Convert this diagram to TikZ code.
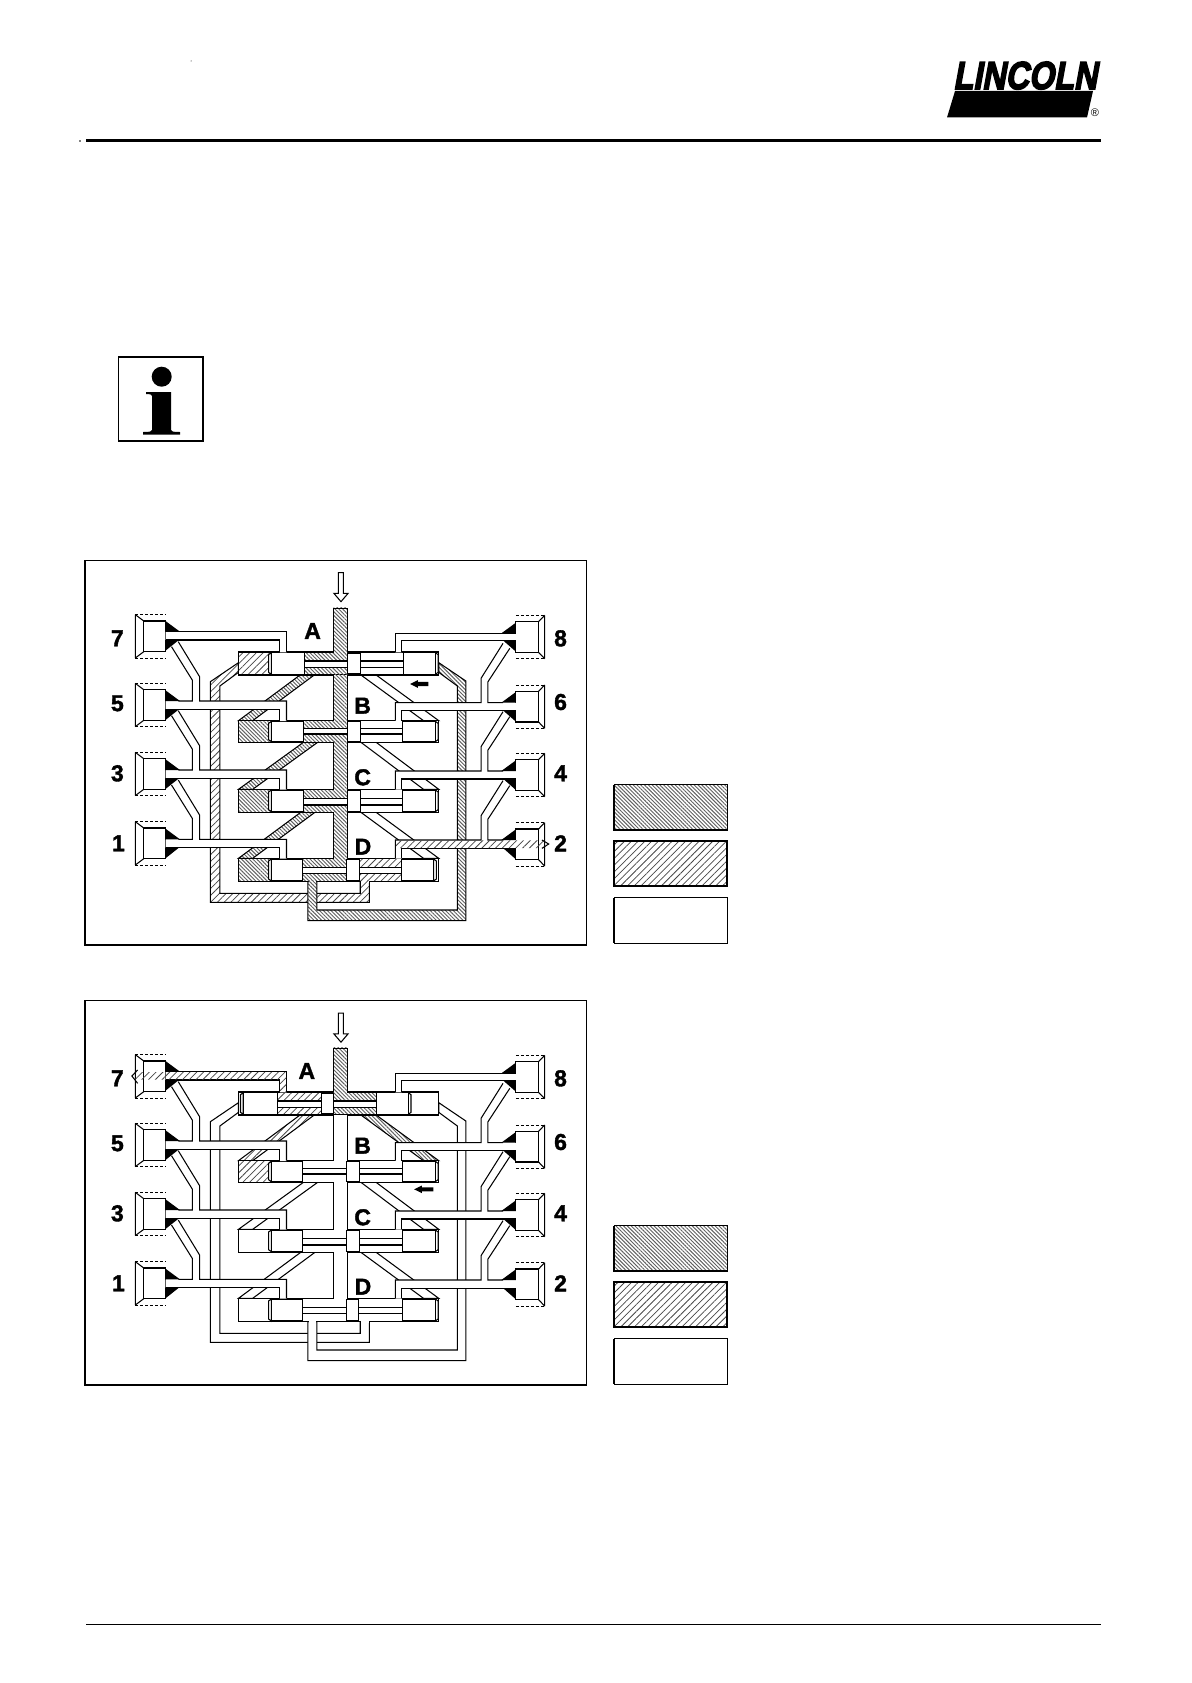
\documentclass[tikz,border=0pt]{standalone}
\usepackage{fontspec}
\usetikzlibrary{patterns.meta}
\setmainfont{Liberation Sans}
\newfontfamily\logofont[FakeSlant=0.22,FakeBold=4]{Liberation Sans Bold}
\newfontfamily\labfont[FakeBold=1.6]{Liberation Sans Bold}
\tikzset{
  apply/.code={\pgfkeysalso{#1}},
  wh/.style={fill=white},
  dk/.style={pattern={Lines[angle=-45,distance=2.7pt,line width=.95pt]},pattern color=black!62},
  lt/.style={pattern={Lines[angle=45,distance=4.8pt,line width=.75pt]},pattern color=black!72},
  ln/.style={line width=1.05pt,line join=miter},
  lab/.style={font=\labfont\fontsize{23}{23}\selectfont,inner sep=0pt},
}
% filled patch, white underlay plus the given style
\newcommand\HF[2]{\fill[white] #2; \fill[apply/.expanded=#1] #2;}
\newcommand\TermL[1]{%
  \fill[white] (193,#1) rectangle (283,#1+130);
  \draw[ln,densely dashed,line width=.7pt] (193,#1) -- (283,#1) (193,#1+130) -- (283,#1+130);
  \draw[ln] (193,#1) -- (193,#1+130) (193,#1) -- (218,#1+19) (193,#1+130) -- (218,#1+111);
  \draw[ln] (218,#1+19) rectangle (283,#1+111);}
\newcommand\TermR[1]{%
  \fill[white] (1318,#1) rectangle (1403,#1+130);
  \draw[ln,densely dashed,line width=.7pt] (1318,#1) -- (1403,#1) (1318,#1+130) -- (1403,#1+130);
  \draw[ln] (1403,#1) -- (1403,#1+130) (1403,#1) -- (1385,#1+19) (1403,#1+130) -- (1385,#1+111);
  \draw[ln] (1318,#1+19) rectangle (1385,#1+111);}
\newcommand\TriL[2]{% top y, bottom y of channel
  \fill (281,#1-33) -- (325,#1) -- (281,#1) -- cycle;
  \fill (281,#2) -- (322,#2) -- (281,#2+33) -- cycle;}
\newcommand\TriR[2]{%
  \fill (1318,#1-32) -- (1275,#1) -- (1318,#1) -- cycle;
  \fill (1318,#2) -- (1281,#2) -- (1318,#2+33) -- cycle;}
% left outlet: top, bottom, block top
\newcommand\OutLB[3]{%
  \fill[white] (620,#3+1) -- (620,#2) -- (283,#2) -- (283,#1) -- (362,#1) -- (362,#1-62) -- (300,#1-163) -- (320,#1-178) -- (383,#1-73) -- (383,#1) -- (640,#1) -- (640,#3+1) -- cycle;
  \draw[ln] (300,#1-163) -- (362,#1-62) -- (362,#1) -- (320,#1);
  \draw[ln] (320,#1-178) -- (383,#1-73) -- (383,#1) -- (640,#1) -- (640,#3);
  \draw[ln] (283,#2) -- (620,#2) -- (620,#3);}
\newcommand\OutRB[3]{%
  \fill[white] (980,#3+1) -- (980,#2) -- (1318,#2) -- (1318,#1) -- (1235,#1) -- (1235,#1-62) -- (1300,#1-163) -- (1280,#1-178) -- (1215,#1-73) -- (1215,#1) -- (962,#1) -- (962,#3+1) -- cycle;
  \draw[ln] (1300,#1-163) -- (1235,#1-62) -- (1235,#1) -- (1280,#1);
  \draw[ln] (1280,#1-178) -- (1215,#1-73) -- (1215,#1) -- (962,#1) -- (962,#3);
  \draw[ln] (1318,#2) -- (980,#2) -- (980,#3);}
% the whole circuit; parameters are set with \def before the call
\newcommand\Circuit[1]{%
  \draw[line width=1pt] (43,30+#1) rectangle (1528,1185-#1);
  \draw[line width=2pt] (43,30+#1) -- (43,1185-#1) -- (1528,1185-#1);
  \draw[ln,fill=white] (793,68+#1) -- (808,68+#1) -- (808,130+#1) -- (822,130+#1) -- (801,155+#1) -- (780,130+#1) -- (793,130+#1) -- cycle;
  % terminals
  \foreach \y in {194,400,607,815} {\TermL{\y}}
  \foreach \y in {196,405,610,818} {\TermR{\y}}
  % return loops
  \def\pp{(498,338) -- (415,395) -- (415,1057) -- (885,1057) -- (885,995) -- (858,995) -- (858,1030) -- (443,1030) -- (443,408) -- (498,367) -- cycle}
  \HF{\sLoopL}{\pp}
  \draw[ln] \pp;
  \def\pp{(1090,338) -- (1170,393) -- (1170,1112) -- (703,1112) -- (703,995) -- (730,995) -- (730,1080) -- (1145,1080) -- (1145,408) -- (1090,367) -- cycle}
  \HF{\sLoopR}{\pp}
  \draw[ln] \pp;
  % diagonals
  \foreach \ya/\yb/\xa/\sl/\sr in \DiagData {
    \def\pp{(\xa,\ya) -- (\xa+42,\ya) -- (540,\yb) -- (498,\yb) -- cycle}
    \HF{\sl}{\pp}
    \draw[ln] \pp;
    \def\pp{(860,\ya) -- (905,\ya) -- (1090,\yb) -- (1045,\yb) -- cycle}
    \HF{\sr}{\pp}
    \draw[ln] \pp;
  }
  % valve rows
  \foreach \yt/\yb/\rT/\rB/\pa/\pb/\sa/\sb/\pc/\pd/\se/\fl/\fr in \RowData {
    \fill[white] (498,\yt) rectangle (1090,\yb);
    \HF{\se}{(498,\yt) rectangle (\pa,\yb)}
    \HF{\fl}{(\pb,\yt) rectangle (\sa,\yb)}
    \HF{\fr}{(\sb,\yt) rectangle (\pc,\yb)}
    \draw[ln] (498,\yt) rectangle (1090,\yb);
    \draw[ln,fill=white] (\pb,\rT) rectangle (\sa,\rB);
    \draw[ln,fill=white] (\sb,\rT) rectangle (\pc,\rB);
    \draw[ln,fill=white] (\pa,\yt+2) -- (\pa-8,\yt+8) -- (\pa-8,\yb-8) -- (\pa,\yb-2) -- cycle;
    \draw[ln,fill=white] (\pd,\yt+2) -- (\pd+8,\yt+8) -- (\pd+8,\yb-8) -- (\pd,\yb-2) -- cycle;
    \draw[ln,fill=white] (\pa,\yt+2) rectangle (\pb,\yb-2);
    \draw[ln,fill=white] (\pc,\yt+2) rectangle (\pd,\yb-2);
    \draw[ln,fill=white] (\sa,\yt+3) rectangle (\sb,\yb-3);
  }
  % supply channel
  \foreach \ya/\yb/\st in \MainData {
    \HF{\st}{(779,\ya-1.5) rectangle (820,\yb+1.5)}
    \draw[ln] (779,\ya) -- (779,\yb) (820,\ya) -- (820,\yb);
  }
  \draw[ln] (779,175+#1) -- (820,175+#1);
  \HF{\sLoopR}{(705,992) rectangle (728,998)}
  \HF{\sLoopL}{(860,992) rectangle (883,998)}
  % outlets
  \fill[white] (620,307) -- (620,270) -- (283,270) -- (283,245) -- (640,245) -- (640,307) -- cycle;
  \draw[ln] (283,245) -- (640,245) -- (640,306) (283,270) -- (620,270) -- (620,306);
  \OutLB{453}{478}{512}
  \OutLB{660}{685}{718}
  \OutLB{868}{893}{925}
  \fill[white] (980,307) -- (980,272) -- (1318,272) -- (1318,250) -- (962,250) -- (962,307) -- cycle;
  \draw[ln] (1318,250) -- (962,250) -- (962,306) (1318,272) -- (980,272) -- (980,306);
  \OutRB{458}{482}{512}
  \OutRB{663}{687}{718}
  \OutRB{870}{895}{925}
}
\newcommand\Labels[2]{%
  \node[lab] (#1n7) at (140,265) {7};
  \node[lab] (#1n5) at (140,460) {5};
  \node[lab] (#1n3) at (140,670) {3};
  \node[lab] (#1n1) at (143,880) {1};
  \node[lab] (#1n8) at (1450,265) {8};
  \node[lab] (#1n6) at (1450,456) {6};
  \node[lab] (#1n4) at (1450,670) {4};
  \node[lab] (#1n2) at (1450,880) {2};
  \node[lab] (#1nA) at (#2,243) {A};
  \node[lab] (#1nB) at (865,467) {B};
  \node[lab] (#1nC) at (865,682) {C};
  \node[lab] (#1nD) at (866,890) {D};}
\newcommand\Legend[1]{%
  \begin{scope}[yshift=#1]
    \HF{dk}{(614,784.5) rectangle (727,830)}
    \draw[line width=1pt] (614,784.5) rectangle (727,830);
    \draw[line width=2pt] (614,784.5) -- (614,830) -- (727,830);
    \HF{lt}{(614,841) rectangle (727,886)}
    \draw[line width=1.2pt] (614,841) rectangle (727,886);
    \draw[line width=1pt,fill=white] (614,897.5) rectangle (727,943);
    \draw[line width=1.6pt] (614,897.5) -- (614,943);
  \end{scope}}
\begin{document}
\begin{tikzpicture}[x=1pt,y=-1pt]
\useasboundingbox (0,0) rectangle (1191,1683);
\fill[white] (0,0) rectangle (1191,1683);
% header
\draw[line width=2pt] (86,140.5) -- (1101,140.5);
\draw[line width=.8pt] (86,1624) -- (1101,1624);
\fill (191,61) circle (.5);
\fill (80,141) circle (.8);
% logo
\node[inner sep=0pt,anchor=base west] (logo) at (953,89) {\logofont\fontsize{39}{39}\selectfont\scalebox{.83}[1]{LINCOLN}};
\fill (955,91) -- (1093,91) -- (1087,117.5) -- (947,117.5) -- cycle;
\node[inner sep=0pt] (reg) at (1095,113) {\fontsize{11}{11}\selectfont ®};
% info sign
\draw[line width=1.6pt] (118.5,357) rectangle (203,441);
\fill (161.7,376.7) circle (10);
\fill (146,392) -- (171,392) -- (171,430) .. controls (171,431.5) and (173,432) .. (180,432) -- (180,434.5) -- (143,434.5) -- (143,432) .. controls (150,432) and (152,431.5) .. (152,430) -- (152,396) .. controls (152,394.5) and (150,394) .. (146,394) -- cycle;
\Legend{0pt}
\Legend{-441pt}
% first circuit
\begin{scope}[shift={(70,550)},x=.3383pt,y=-.33333pt]
  \def\sLoopL{lt}\def\sLoopR{dk}
  \def\DiagData{375/512/680/dk/wh,577/718/690/dk/wh,787/925/682/dk/wh}
  \def\RowData{306/375/333/352/595/692/820/858/985/1080/lt/dk/wh,
               512/577/535/552/595/690/820/858/983/1080/dk/dk/wh,
               718/787/745/765/595/690/820/858/983/1080/dk/dk/wh,
               925/995/952/970/595/688/818/855/980/1075/dk/dk/lt}
  \def\MainData{175/306/dk,375/512/dk,577/718/dk,787/925/dk}
  \Circuit{0}
  \fill[pattern={Lines[angle=45,distance=4.8pt,line width=.75pt]},pattern color=black!72] (964,871) rectangle (1215,894) (1215,871) rectangle (1400,894);
  \draw[ln] (1395,870) -- (1415,882) -- (1395,895);
  \TriL{245}{270}\TriL{453}{478}\TriL{660}{685}\TriL{868}{893}
  \TriR{250}{272}\TriR{458}{482}\TriR{663}{687}\TriR{870}{895}
  \draw[line width=1.4pt,fill=black] (1010,402) -- (1026,394) -- (1026,398) -- (1057,398) -- (1057,406) -- (1026,406) -- (1026,410) -- cycle;
  \Labels{p}{717}
\end{scope}
% second circuit
\begin{scope}[shift={(70,990)},x=.3383pt,y=-.33333pt]
  \def\sLoopL{wh}\def\sLoopR{wh}
  \def\DiagData{375/512/680/lt/dk,577/718/690/wh/wh,787/925/682/wh/wh}
  \def\RowData{306/375/333/352/512/612/742/779/905/1000/wh/lt/dk,
               512/577/535/552/595/688/818/855/982/1080/lt/wh/wh,
               718/787/745/765/595/688/818/855/982/1080/wh/wh/wh,
               925/995/952/970/595/688/816/853/982/1080/wh/wh/wh}
  \def\MainData{175/306/dk,375/512/wh,577/718/wh,787/925/wh}
  \Circuit{1.5}
  \fill[pattern={Lines[angle=45,distance=4.8pt,line width=.75pt]},pattern color=black!72] (190,246) rectangle (639,269) (621,246) rectangle (639,305);
  \draw[ln] (200,240) -- (183,258) -- (200,280);
  \TriL{245}{270}\TriL{453}{478}\TriL{660}{685}\TriL{868}{893}
  \TriR{250}{272}\TriR{458}{482}\TriR{663}{687}\TriR{870}{895}
  \draw[line width=1.4pt,fill=black] (1022,598) -- (1038,590) -- (1038,594) -- (1072,594) -- (1072,602) -- (1038,602) -- (1038,606) -- cycle;
  \Labels{q}{700}
\end{scope}
\end{tikzpicture}
\end{document}
